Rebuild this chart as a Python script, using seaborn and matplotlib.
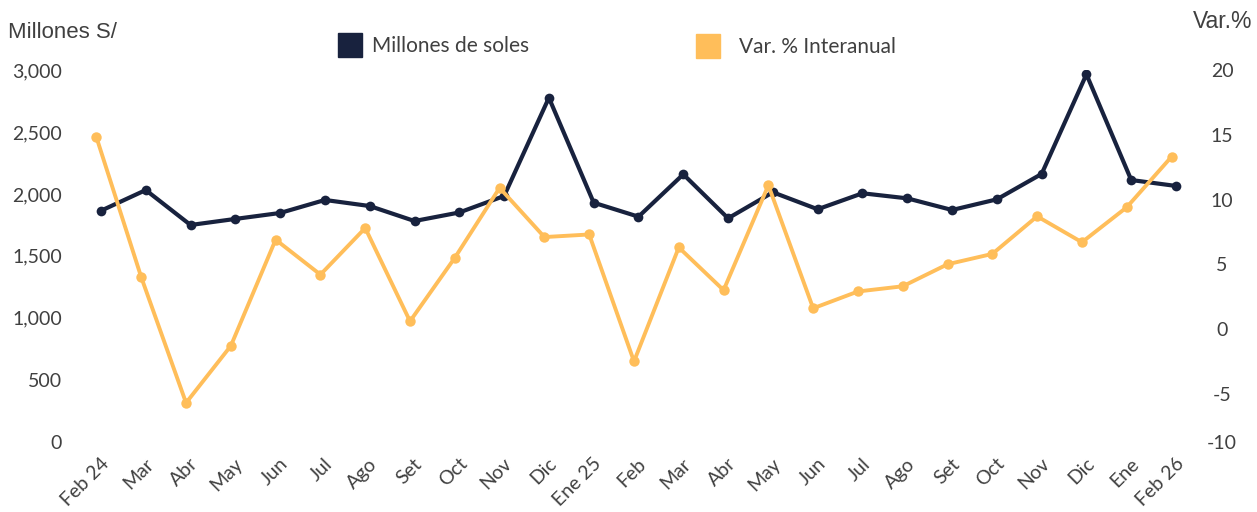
import matplotlib
matplotlib.use("Agg")
import matplotlib.pyplot as plt
import matplotlib.transforms as mtransforms
from matplotlib.lines import Line2D
import seaborn as sns

# datos
meses = ["Feb 24", "Mar", "Abr", "May", "Jun", "Jul", "Ago", "Set", "Oct", "Nov", "Dic",
         "Ene 25", "Feb", "Mar", "Abr", "May", "Jun", "Jul", "Ago", "Set", "Oct", "Nov",
         "Dic", "Ene", "Feb 26"]
millones = [1864, 2031, 1749, 1798, 1846, 1951, 1902, 1781, 1850, 1983, 2776,
            1929, 1816, 2158, 1803, 2013, 1876, 2005, 1964, 1870, 1956, 2161,
            2965, 2112, 2064]
var_pct = [14.8, 4.0, -5.7, -1.3, 6.9, 4.2, 7.8, 0.6, 5.5, 10.9, 7.1,
           7.3, -2.5, 6.3, 3.0, 11.1, 1.6, 2.9, 3.3, 5.0, 5.8, 8.7,
           6.7, 9.4, 13.3]

izq_ticks = [0, 500, 1000, 1500, 2000, 2500, 3000]
izq_labels = ["0", "500", "1,000", "1,500", "2,000", "2,500", "3,000"]
der_min = -8.7
der_ticks = [der_min, -5, 0, 5, 10, 15, 20]
der_labels = ["-10", "-5", "0", "5", "10", "15", "20"]

navy = "#18223e"
oro = "#ffbe5a"
gris = "#404040"

sns.set_style("white")
plt.rcParams["font.family"] = ["Lato", "DejaVu Sans"]

fig = plt.figure(figsize=(12.57, 5.12), dpi=100)
ax = fig.add_axes([0.0625, 0.1373, 0.8909, 0.726])
ax2 = ax.twinx()

pos = list(range(len(meses)))

sns.lineplot(x=pos, y=millones, ax=ax, color=navy, linewidth=3.0,
             marker="o", markersize=7, markeredgewidth=0)
sns.lineplot(x=pos, y=var_pct, ax=ax2, color=oro, linewidth=2.8,
             marker="o", markersize=7.5, markeredgewidth=0)

# la serie naranja esta ligeramente desplazada a la izquierda en el original
shift = mtransforms.ScaledTranslation(-0.045, 0, fig.dpi_scale_trans)
for ln in ax2.lines:
    ln.set_transform(ax2.transData + shift)

ax.set_xlim(-0.5, len(meses) - 0.5)
ax.set_ylim(0, 3000)
ax2.set_ylim(der_min, 20)

ax.set_yticks(izq_ticks)
ax.set_yticklabels(izq_labels)
ax2.set_yticks(der_ticks)
ax2.set_yticklabels(der_labels)
ax.set_xticks(pos)
ax.set_xticklabels(meses, rotation=45, ha="right", va="center", rotation_mode="anchor")

ax.tick_params(axis="y", length=0, pad=12, labelsize=14, labelcolor=gris)
ax2.tick_params(axis="y", length=0, pad=17, labelsize=14, labelcolor=gris)
for t in ax2.get_yticklabels():
    t.set_ha("center")
ax.tick_params(axis="x", length=0, pad=14, labelsize=14, labelcolor=gris)
xshift = mtransforms.ScaledTranslation(0.05, 0, fig.dpi_scale_trans)
for t in ax.get_xticklabels():
    t.set_transform(t.get_transform() + xshift)
ax.set_xlabel("")
ax.set_ylabel("")
ax2.set_ylabel("")
ax.grid(False)
ax2.grid(False)
for a in (ax, ax2):
    for s in a.spines.values():
        s.set_visible(False)

fig.text(8 / 1257, 1 - 33 / 512, "Millones S/", fontsize=16, color=gris,
         family=["Liberation Sans"], va="center", ha="left")
fig.text(1223 / 1257, 1 - 22 / 512, "Var.%", fontsize=16.5, color=gris,
         family=["Liberation Sans"], va="center", ha="center")

h1 = Line2D([], [], marker="s", linestyle="", markersize=17, color=navy)
h2 = Line2D([], [], marker="s", linestyle="", markersize=17, color=oro)
leg1 = fig.legend([h1], ["Millones de soles"], loc="center left",
                  bbox_to_anchor=(340 / 1257, 1 - 46 / 512), frameon=False,
                  borderpad=0, borderaxespad=0, handlelength=1.0,
                  handletextpad=0.55, fontsize=15, labelcolor=gris)
leg2 = fig.legend([h2], ["Var. % Interanual"], loc="center left",
                  bbox_to_anchor=(698 / 1257, 1 - 47 / 512), frameon=False,
                  borderpad=0, borderaxespad=0, handlelength=1.0,
                  handletextpad=0.95, fontsize=15, labelcolor=gris)

fig.savefig("out.png", dpi=100)
